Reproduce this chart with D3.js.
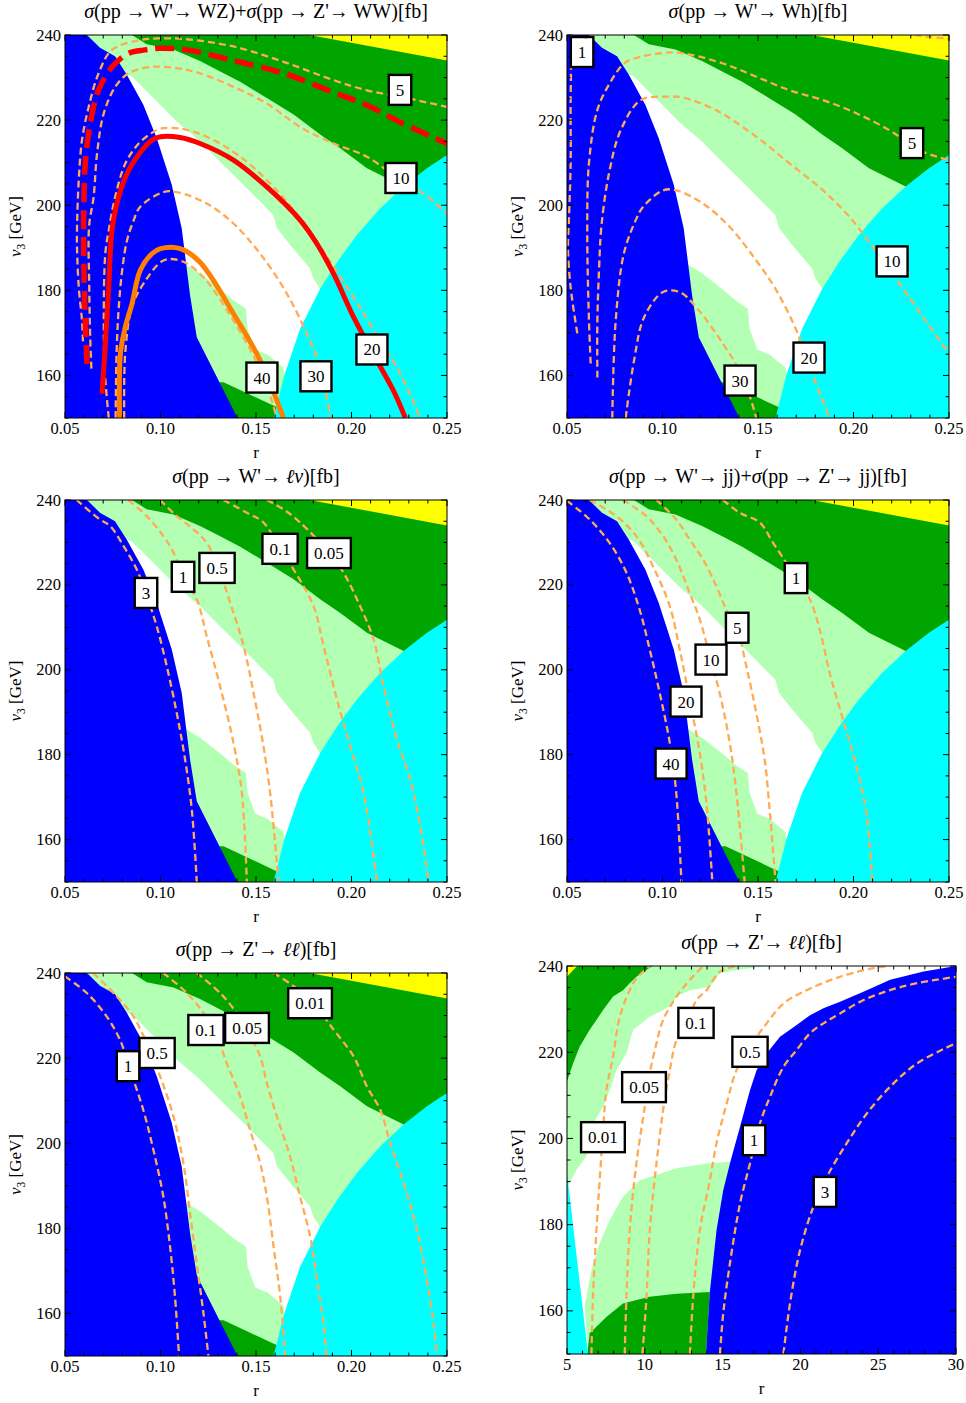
<!DOCTYPE html>
<html>
<head>
<meta charset="utf-8">
<script src="https://cdn.jsdelivr.net/npm/d3@7"></script>
<style>
  body { margin: 0; background: #fff; }
  text { font-family: "Liberation Serif", "Times New Roman", serif; fill: #000; }
</style>
</head>
<body>
<svg id="chart" width="966" height="1403"></svg>
<script>
// ---------- data (r, v3) ----------
let xTicksR = [0.05, 0.10, 0.15, 0.20, 0.25];
let xTicksZ = [5, 10, 15, 20, 25, 30];
let yTicksV = [160, 180, 200, 220, 240];

// allowed regions, panels 1-5
let regionLight = [[0.05,240],[0.085,240],[0.0928,237.8],[0.1068,236.6],[0.1207,233.9],[0.131,231.5],[0.1417,229],[0.1557,225.2],[0.1697,221.3],[0.1836,216.6],[0.1941,213.4],[0.2081,208.7],[0.2273,204.4],[0.25,150],[0.1592,150],[0.161,152.5],[0.133,158.4],[0.05,158.4]];
let regionWhite = [[0.0823,230.7],[0.0849,230.3],[0.0945,226],[0.1085,219.7],[0.1207,215],[0.131,210.3],[0.1417,205.6],[0.1522,200.8],[0.159,197.7],[0.161,194.6],[0.168,190.6],[0.1784,185.1],[0.18,182.8],[0.1836,180.4],[0.19,170],[0.1648,160],[0.1644,161.8],[0.156,164.9],[0.1496,166.1],[0.1456,171],[0.1447,175.7],[0.138,177.7],[0.131,180.4],[0.1207,184],[0.1138,185.9],[0.1,186]];
let regionYellow = [[0.178,240],[0.25,240],[0.25,234]];
let regionBlue = [[0.05,240],[0.0615,240],[0.0683,237],[0.0762,235],[0.0823,230.7],[0.091,223.6],[0.098,215.8],[0.1059,204.8],[0.1111,194.6],[0.1155,178.8],[0.119,169],[0.1403,150],[0.05,150]];
let regionCyan = [[0.1592,150],[0.1648,160],[0.1731,171],[0.1836,180.4],[0.1924,186.6],[0.2028,193],[0.2151,199.3],[0.2273,204.4],[0.2395,208.7],[0.25,211.8],[0.25,150]];

// allowed regions, panel 6
let z6Yellow = [[5,240],[5.65,240],[5,237.5]];
let z6LightTop = [[5,240],[17.83,240],[15.9,239.1],[14.83,238.3],[14.18,235.2],[12.9,234.4],[12.04,232.9],[11.61,230.6],[10.32,228.2],[9.25,225.2],[8.82,219.7],[8.18,215.9],[7.75,211.2],[7.32,207.4],[6.46,202],[6.24,195.8],[5.6,192.7],[5.17,189.6],[5,189]];
let z6DarkTop = [[5,240],[10.5,240],[10.1,239.1],[9.46,237.5],[9.03,236],[8.6,234.4],[7.96,232.9],[7.32,229.8],[6.89,227.5],[6.46,225.2],[5.82,221.3],[5.39,217.4],[5,213.2]];
let z6LightBottom = [[6.14,161.3],[6.6,170],[7.1,175.7],[7.75,181.1],[8.6,186.5],[9.68,190.3],[12.04,193.1],[13.97,194.2],[15.5,194.6],[15.5,150],[6.35,150]];
let z6DarkBottom = [[6.3,150],[6.46,154.8],[7.53,158.6],[8.6,161.7],[10.3,163.3],[12.04,164],[14.18,164.4],[13.93,150]];
let z6Blue = [[13.93,150],[14.18,164.4],[14.61,178.7],[15.04,188],[15.5,194.6],[16.12,202.7],[16.76,211.2],[17.19,215.9],[17.83,219.7],[18.69,223.6],[19.76,226.3],[20.62,228.6],[21.48,230.2],[22.55,231.7],[24.27,234.4],[25.77,236.8],[27.92,238.7],[30,240],[30,150]];
let z6Cyan = [[5,191.9],[6.35,150],[5,150]];

// panel 1 : WZ + WW
let p1c5 = [[0.0594,168],[0.0589,172.9],[0.0572,180.8],[0.0563,189.9],[0.0563,194.9],[0.0572,205.9],[0.0589,215.3],[0.0624,223.1],[0.0676,231],[0.0746,236.5],[0.0893,238.8],[0.0998,239.2],[0.1138,239],[0.1382,237.3],[0.1644,233.7],[0.1906,229.4],[0.2081,227],[0.2255,225.5],[0.25,223.1]];
let p1RedDash = [[0.0615,162.7],[0.0603,176.9],[0.0598,188.6],[0.0598,198],[0.0606,209.8],[0.0632,219.2],[0.0676,227.1],[0.0746,232.5],[0.0833,235.7],[0.092,236.5],[0.0998,236.9],[0.1138,236.5],[0.1382,234],[0.1644,231],[0.1906,226.5],[0.2081,223.5],[0.2255,219.5],[0.25,214.5]];
let p1c10 = [[0.0638,161.6],[0.0632,169],[0.0627,180.8],[0.0626,195],[0.065,202],[0.0668,212.2],[0.0703,221.6],[0.0763,227.8],[0.0833,231],[0.0947,232.5],[0.1085,232.2],[0.1207,231],[0.1382,227.8],[0.1557,223.9],[0.1731,218.4],[0.1906,214.5],[0.2081,211.4],[0.2255,205.9],[0.2378,202.7],[0.25,198]];
let p1Red = [[0.0694,155.7],[0.0708,165.1],[0.0729,180.8],[0.0746,194.1],[0.0781,202],[0.0833,208.2],[0.0903,212.9],[0.0955,215.3],[0.1,216.1],[0.1103,215.9],[0.1207,214.5],[0.1382,210.6],[0.1557,204.3],[0.1731,196.5],[0.1818,191],[0.1906,183.9],[0.2011,173.7],[0.2133,163.5],[0.222,156.4],[0.2282,150]];
let p1c20 = [[0.0729,150],[0.0708,161.2],[0.0703,172.9],[0.0711,188.6],[0.0729,194.1],[0.0763,202],[0.0816,209.8],[0.0886,214.5],[0.0955,217],[0.1,218],[0.1103,218],[0.1242,216.1],[0.1417,211.4],[0.1592,204.3],[0.1766,194.9],[0.1906,185.5],[0.2011,178.4],[0.2116,170.6],[0.2255,160.4],[0.236,150]];
let p1c30 = [[0.0765,150],[0.077,165],[0.078,175],[0.08,185],[0.0825,191.8],[0.086,196.5],[0.0893,199.6],[0.1015,203.1],[0.1085,203.1],[0.1242,200.4],[0.1382,195.7],[0.1522,188.6],[0.1662,179.2],[0.1766,169.8],[0.1836,161.9],[0.1889,150]];
let p1Orange = [[0.0786,150],[0.079,165.1],[0.0816,171.4],[0.0851,176.9],[0.0894,184.7],[0.0955,188.6],[0.1,189.8],[0.1103,189.8],[0.1207,186.6],[0.1382,174.5],[0.1522,163.5],[0.1644,150]];
let p1c40 = [[0.081,150],[0.0815,165],[0.085,176],[0.091,181.5],[0.1015,187],[0.1103,187],[0.1207,183.9],[0.1382,172.9],[0.1539,159.6],[0.1609,150]];
let p1LabelText = ["5", "10", "20", "30", "40"];
let p1LabelPos = [[0.2254,227.1],[0.2259,206.4],[0.2107,166.1],[0.1814,159.8],[0.1531,159.5]];

// panel 2 : Wh
let p2c1 = [[0.0554,169.9],[0.0519,180.7],[0.0505,190],[0.051,196.5],[0.0519,210],[0.0519,225],[0.0525,240]];
let p2c1b = [[0.232,240],[0.24,239.5],[0.25,239.2]];
let p2c5 = [[0.0624,162.8],[0.0615,172.9],[0.0606,194.1],[0.0615,209.9],[0.0659,222.4],[0.0723,228.6],[0.0798,233.3],[0.0846,234.4],[0.1003,235.8],[0.1107,235.7],[0.1317,233.3],[0.1491,230.2],[0.1666,227],[0.184,224.7],[0.2015,221.6],[0.2189,217.6],[0.2346,212.9],[0.25,210.6]];
let p2c10 = [[0.0659,159.5],[0.0659,172.9],[0.0668,185],[0.068,195],[0.072,207.5],[0.0781,217.6],[0.0886,224.7],[0.102,225.5],[0.1107,225.3],[0.1282,222.3],[0.1491,216.1],[0.1666,209.8],[0.184,203.5],[0.198,197.2],[0.2102,190.2],[0.2242,181.5],[0.2364,173.7],[0.25,165.1]];
let p2c20 = [[0.0737,150],[0.0755,172.9],[0.0798,188.7],[0.086,196.5],[0.0898,199.6],[0.1003,203.5],[0.1072,203.5],[0.1212,200.4],[0.1352,194.9],[0.1491,187],[0.1596,180],[0.1701,170.6],[0.1771,161.9],[0.1875,150]];
let p2c30 = [[0.0807,150],[0.0851,163.5],[0.0903,173.6],[0.1003,179.6],[0.109,179.6],[0.1177,176],[0.1317,167.4],[0.1421,159.6],[0.1491,150]];
let p2LabelText = ["1", "5", "10", "20", "30"];
let p2LabelPos = [[0.0579,236],[0.2306,214.6],[0.2202,186.8],[0.1767,164.2],[0.1406,158.8]];

// panel 3 : l nu
let p3c3 = [[0.0561,240],[0.0683,235.4],[0.0736,233.9],[0.0806,229.2],[0.0876,223.6],[0.0928,217.4],[0.098,210.3],[0.1033,200.8],[0.1085,189.8],[0.1129,178.8],[0.1164,167],[0.119,150]];
let p3c1 = [[0.0832,240],[0.0928,236.2],[0.1015,231.5],[0.1068,227.6],[0.1117,221.9],[0.119,216.6],[0.1242,207.9],[0.1312,196.1],[0.1382,182.8],[0.1426,171],[0.1452,150]];
let p3c05 = [[0.0998,240],[0.1085,236.2],[0.1172,233.1],[0.1242,229.9],[0.1303,224],[0.1365,215.8],[0.1435,205.6],[0.1487,194.6],[0.1539,182],[0.1574,171],[0.1618,150]];
let p3c01 = [[0.133,240],[0.1452,237],[0.1539,234.7],[0.1627,228.5],[0.1697,223.6],[0.1801,215],[0.1854,205.6],[0.1924,193],[0.1993,182],[0.2063,171],[0.2133,150]];
let p3c005 = [[0.1557,240],[0.1644,237.8],[0.1731,234.7],[0.1883,227.6],[0.1958,222.9],[0.2045,215],[0.2116,207.1],[0.2168,196.1],[0.2238,183.6],[0.2308,174.1],[0.236,163.1],[0.2404,150]];
let p3LabelText = ["3", "1", "0.5", "0.1", "0.05"];
let p3LabelPos = [[0.0924,218.1],[0.1118,221.9],[0.1296,224],[0.1626,228.5],[0.1882,227.5]];

// panel 4 : jj
let p4c40 = [[0.05,239.8],[0.0619,235.4],[0.0723,229.9],[0.0811,222.9],[0.088,214.2],[0.0933,204.8],[0.0985,194.6],[0.1038,182.8],[0.1072,171],[0.1099,150]];
let p4c20 = [[0.0619,240],[0.0758,236.2],[0.0863,231.5],[0.095,224.4],[0.1038,215],[0.109,204.8],[0.1142,193],[0.1195,180.4],[0.123,168.6],[0.1261,150]];
let p4c10 = [[0.0793,240],[0.0915,236.2],[0.1003,231.5],[0.1072,226],[0.1142,218.1],[0.1195,211.9],[0.1252,202.4],[0.1299,194.6],[0.1352,182.8],[0.1387,171],[0.143,150]];
let p4c5 = [[0.0968,240],[0.1072,235.4],[0.1142,230.7],[0.1212,226],[0.1282,219.7],[0.1334,214.2],[0.139,209.7],[0.1439,200.8],[0.1491,189.8],[0.1535,178.8],[0.1561,167],[0.1592,150]];
let p4c1 = [[0.1317,240],[0.1404,237],[0.1509,234.7],[0.1579,229.9],[0.1648,225.2],[0.1697,221.7],[0.1771,216.6],[0.1823,209.5],[0.1875,199.3],[0.1945,188.3],[0.2015,177.3],[0.2067,166.3],[0.2099,150]];
let p4LabelText = ["1", "5", "10", "20", "40"];
let p4LabelPos = [[0.1699,221.6],[0.1391,209.9],[0.1254,202.4],[0.1123,192.5],[0.1045,177.9]];

// panel 5 : Z' -> ll vs r
let p5c1 = [[0.05,239.2],[0.0614,235.3],[0.0718,229.8],[0.0788,224.3],[0.0841,217.2],[0.091,207.8],[0.0963,198.4],[0.1015,187.4],[0.105,175.7],[0.1076,163.9],[0.1097,150]];
let p5c05 = [[0.0648,240],[0.0771,234.5],[0.0858,229.8],[0.0928,223.5],[0.0998,215.7],[0.1068,206.3],[0.112,195.3],[0.1155,183.5],[0.119,171.7],[0.1225,160],[0.1251,150]];
let p5c01 = [[0.1015,240],[0.1138,235.3],[0.1225,230.6],[0.1295,225.1],[0.1347,218.8],[0.1417,211],[0.1469,203.1],[0.1522,195.3],[0.1557,187.4],[0.1592,175.7],[0.1627,163.9],[0.1653,150]];
let p5c005 = [[0.119,240],[0.1312,235.3],[0.1399,230.6],[0.1452,226.7],[0.1522,220.4],[0.1557,214.1],[0.1609,206.3],[0.1679,196.8],[0.1731,187.4],[0.1784,178],[0.1819,167.8],[0.1854,157.6],[0.1868,150]];
let p5c001 = [[0.1592,240],[0.1697,236.9],[0.1801,232.9],[0.1906,226.7],[0.2011,220.4],[0.2081,213.3],[0.2151,207.8],[0.2203,200],[0.2273,190.6],[0.2343,179.6],[0.2395,167.8],[0.243,157.6],[0.2448,150]];
let p5LabelText = ["0.01", "0.1", "0.05", "0.5", "1"];
let p5LabelPos = [[0.1783,232.9],[0.1238,226.6],[0.1453,227.1],[0.0982,221.2],[0.083,218.1]];

// panel 6 : Z' -> ll vs large r
let p6c001 = [[6.57,150],[6.67,163.3],[6.89,178.7],[7.1,190.3],[7.32,202],[7.53,211.2],[7.96,219],[8.39,228.2],[9.03,234.4],[9.46,237.1],[10.32,240]];
let p6c005 = [[8.71,150],[8.82,163.3],[9.03,178.7],[9.46,194.2],[10,207.4],[10.32,215.1],[10.75,222.1],[11.18,227.5],[12.04,232.9],[12.9,236.8],[13.76,240]];
let p6c01 = [[9.85,150],[10.11,163.3],[10.32,178.7],[10.75,194.2],[11.18,206.6],[11.61,215.9],[12.04,222.8],[12.68,226.7],[13.33,232.1],[13.97,234.4],[14.83,238.7],[15.9,240]];
let p6c05 = [[12.9,150],[13.11,163.3],[13.54,178.7],[14.18,190.3],[14.61,198.9],[15.26,208.1],[15.9,215.9],[16.76,221.3],[17.83,226.7],[18.91,231.3],[20.41,234.4],[22.55,237.5],[24.7,239.5],[25.77,240]];
let p6c1 = [[14.83,150],[15.04,159.4],[15.47,171],[16.12,184.9],[16.76,194.2],[17.4,203.5],[18.05,209.7],[18.91,216.6],[19.76,220.5],[20.62,224.4],[21.48,226.7],[22.55,229],[24.06,232.1],[25.77,234.4],[27.49,236],[30,237.5]];
let p6c3 = [[18.91,150],[19.33,161.7],[19.98,174.1],[20.84,184.2],[21.7,191.1],[22.98,198.9],[24.27,205.8],[25.77,212],[27.49,217.4],[30,222.1]];
let p6LabelText = ["0.1", "0.5", "0.05", "0.01", "1", "3"];
let p6LabelPos = [[13.29,226.8],[16.76,220.1],[9.95,211.9],[7.31,200.3],[17.02,199.6],[21.58,187.6]];

// ---------- drawing ----------
let colors = {
  blue: "#0000ff", cyan: "#00ffff", light: "#b3ffb3", dark: "#00a500",
  yellow: "#ffff00", white: "#ffffff", dash: "#ffaa55", red: "#ff0000", orange: "#ff8000"
};

let svg = d3.select("#chart");

let regionsLow = [
  { pts: regionLight, fill: colors.light },
  { pts: regionWhite, fill: colors.white },
  { pts: regionYellow, fill: colors.yellow },
  { pts: regionBlue, fill: colors.blue },
  { pts: regionCyan, fill: colors.cyan }
];
let regionsHigh = [
  { pts: z6LightTop, fill: colors.light },
  { pts: z6DarkTop, fill: colors.dark },
  { pts: z6Yellow, fill: colors.yellow },
  { pts: z6LightBottom, fill: colors.light },
  { pts: z6DarkBottom, fill: colors.dark },
  { pts: z6Blue, fill: colors.blue },
  { pts: z6Cyan, fill: colors.cyan }
];

let thin = { stroke: colors.dash, width: 2.3, dash: "7,4" };

let panels = [
  { box: [65, 35, 447, 418], xDom: [0.05, 0.25], ticks: xTicksR, fmt: d3.format(".2f"), minor: 0.01, bg: colors.dark, regions: regionsLow,
    title: [["σ", 1], ["(pp → W'→ WZ)+", 0], ["σ", 1], ["(pp → Z'→ WW)[fb]", 0]],
    lines: [
      { pts: p1c5, ...thin }, { pts: p1c10, ...thin }, { pts: p1c20, ...thin }, { pts: p1c30, ...thin }, { pts: p1c40, ...thin },
      { pts: p1RedDash, stroke: colors.red, width: 5.5, dash: "19,8" },
      { pts: p1Red, stroke: colors.red, width: 5 },
      { pts: p1Orange, stroke: colors.orange, width: 5 }
    ],
    labels: [p1LabelText, p1LabelPos] },
  { box: [567, 35, 949, 418], xDom: [0.05, 0.25], ticks: xTicksR, fmt: d3.format(".2f"), minor: 0.01, bg: colors.dark, regions: regionsLow,
    title: [["σ", 1], ["(pp → W'→ Wh)[fb]", 0]],
    lines: [p2c1, p2c1b, p2c5, p2c10, p2c20, p2c30].map(p => ({ pts: p, ...thin })),
    labels: [p2LabelText, p2LabelPos] },
  { box: [65, 500, 447, 882], xDom: [0.05, 0.25], ticks: xTicksR, fmt: d3.format(".2f"), minor: 0.01, bg: colors.dark, regions: regionsLow,
    title: [["σ", 1], ["(pp → W'→ ", 0], ["ℓν", 1], [")[fb]", 0]],
    lines: [p3c3, p3c1, p3c05, p3c01, p3c005].map(p => ({ pts: p, ...thin })),
    labels: [p3LabelText, p3LabelPos] },
  { box: [567, 500, 949, 882], xDom: [0.05, 0.25], ticks: xTicksR, fmt: d3.format(".2f"), minor: 0.01, bg: colors.dark, regions: regionsLow,
    title: [["σ", 1], ["(pp → W'→ jj)+", 0], ["σ", 1], ["(pp → Z'→ jj)[fb]", 0]],
    lines: [p4c40, p4c20, p4c10, p4c5, p4c1].map(p => ({ pts: p, ...thin })),
    labels: [p4LabelText, p4LabelPos] },
  { box: [65, 973, 447, 1356], xDom: [0.05, 0.25], ticks: xTicksR, fmt: d3.format(".2f"), minor: 0.01, bg: colors.dark, regions: regionsLow,
    title: [["σ", 1], ["(pp → Z'→ ", 0], ["ℓℓ", 1], [")[fb]", 0]],
    lines: [p5c1, p5c05, p5c01, p5c005, p5c001].map(p => ({ pts: p, ...thin })),
    labels: [p5LabelText, p5LabelPos] },
  { box: [567, 966, 956, 1354], xDom: [5, 30], ticks: xTicksZ, fmt: d3.format("d"), minor: 1, bg: colors.white, regions: regionsHigh,
    title: [["σ", 1], ["(pp → Z'→ ", 0], ["ℓℓ", 1], [")[fb]", 0]],
    lines: [p6c001, p6c005, p6c01, p6c05, p6c1, p6c3].map(p => ({ pts: p, ...thin })),
    labels: [p6LabelText, p6LabelPos] }
];

panels.forEach((p, i) => {
  let [L, T, R, B] = p.box;
  let x = d3.scaleLinear().domain(p.xDom).range([L, R]);
  let y = d3.scaleLinear().domain([150, 240]).range([B, T]);

  let clipId = "clip" + i;
  svg.append("clipPath").attr("id", clipId)
    .append("rect").attr("x", L).attr("y", T).attr("width", R - L).attr("height", B - T);

  let g = svg.append("g").attr("clip-path", `url(#${clipId})`);

  g.append("rect").attr("x", L).attr("y", T).attr("width", R - L).attr("height", B - T)
    .attr("fill", p.bg);

  let poly = d3.line().x(d => x(d[0])).y(d => y(d[1])).curve(d3.curveLinearClosed);
  g.selectAll("path.region")
    .data(p.regions)
    .enter()
    .append("path")
    .attr("class", "region")
    .attr("d", d => poly(d.pts))
    .attr("fill", d => d.fill);

  let line = d3.line().x(d => x(d[0])).y(d => y(d[1])).curve(d3.curveCatmullRom.alpha(0.5));
  g.selectAll("path.contour")
    .data(p.lines)
    .enter()
    .append("path")
    .attr("class", "contour")
    .attr("d", d => line(d.pts))
    .attr("fill", "none")
    .attr("stroke", d => d.stroke)
    .attr("stroke-width", d => d.width)
    .attr("stroke-dasharray", d => d.dash || null);

  // contour labels
  let [texts, pos] = p.labels;
  texts.forEach((t, k) => {
    let cx = x(pos[k][0]), cy = y(pos[k][1]);
    let lg = g.append("g");
    let rect = lg.append("rect");
    let txt = lg.append("text")
      .attr("x", cx).attr("y", cy + 6)
      .attr("text-anchor", "middle")
      .attr("font-size", 17)
      .text(t);
    let w = txt.node().getComputedTextLength() + 14;
    rect.attr("x", cx - w / 2).attr("y", cy - 15).attr("width", w).attr("height", 30)
      .attr("fill", "#fff").attr("stroke", "#000").attr("stroke-width", 2.4);
  });

  // frame
  svg.append("rect").attr("x", L).attr("y", T).attr("width", R - L).attr("height", B - T)
    .attr("fill", "none").attr("stroke", "#000").attr("stroke-width", 1);

  // ticks on all sides, pointing inward
  let xMinor = d3.range(p.xDom[0], p.xDom[1] + p.minor / 2, p.minor);
  let yMinor = d3.range(150, 240.1, 5);
  let tk = svg.append("g").attr("stroke", "#000").attr("stroke-width", 1);
  xMinor.forEach(v => {
    let major = p.ticks.some(t => Math.abs(t - v) < 1e-6);
    let len = major ? 6 : 3.5;
    tk.append("line").attr("x1", x(v)).attr("x2", x(v)).attr("y1", B).attr("y2", B - len);
    tk.append("line").attr("x1", x(v)).attr("x2", x(v)).attr("y1", T).attr("y2", T + len);
  });
  yMinor.forEach(v => {
    let major = yTicksV.includes(v);
    let len = major ? 6 : 3.5;
    tk.append("line").attr("x1", L).attr("x2", L + len).attr("y1", y(v)).attr("y2", y(v));
    tk.append("line").attr("x1", R).attr("x2", R - len).attr("y1", y(v)).attr("y2", y(v));
  });

  // tick labels
  svg.append("g").selectAll("text")
    .data(p.ticks)
    .enter()
    .append("text")
    .attr("x", d => x(d)).attr("y", B + 16)
    .attr("text-anchor", "middle").attr("font-size", 16.5)
    .text(d => p.fmt(d));
  svg.append("g").selectAll("text")
    .data(yTicksV)
    .enter()
    .append("text")
    .attr("x", L - 4).attr("y", d => y(d) + 5.5)
    .attr("text-anchor", "end").attr("font-size", 16.5)
    .text(d => d);

  // axis titles
  svg.append("text")
    .attr("x", (L + R) / 2).attr("y", B + 40)
    .attr("text-anchor", "middle").attr("font-size", 17)
    .text("r");

  let yl = svg.append("text")
    .attr("transform", `translate(${L - 44}, ${(T + B) / 2}) rotate(-90)`)
    .attr("text-anchor", "middle").attr("font-size", 17);
  yl.append("tspan").attr("font-style", "italic").text("v");
  yl.append("tspan").attr("font-size", 11.5).attr("dy", 4).text("3");
  yl.append("tspan").attr("dy", -4).text(" [GeV]");

  // plot title
  let tt = svg.append("text")
    .attr("x", (L + R) / 2).attr("y", T - 17)
    .attr("text-anchor", "middle").attr("font-size", 20);
  p.title.forEach(([s, it]) => {
    tt.append("tspan").attr("font-style", it ? "italic" : null).text(s);
  });
});
</script>
</body>
</html>
